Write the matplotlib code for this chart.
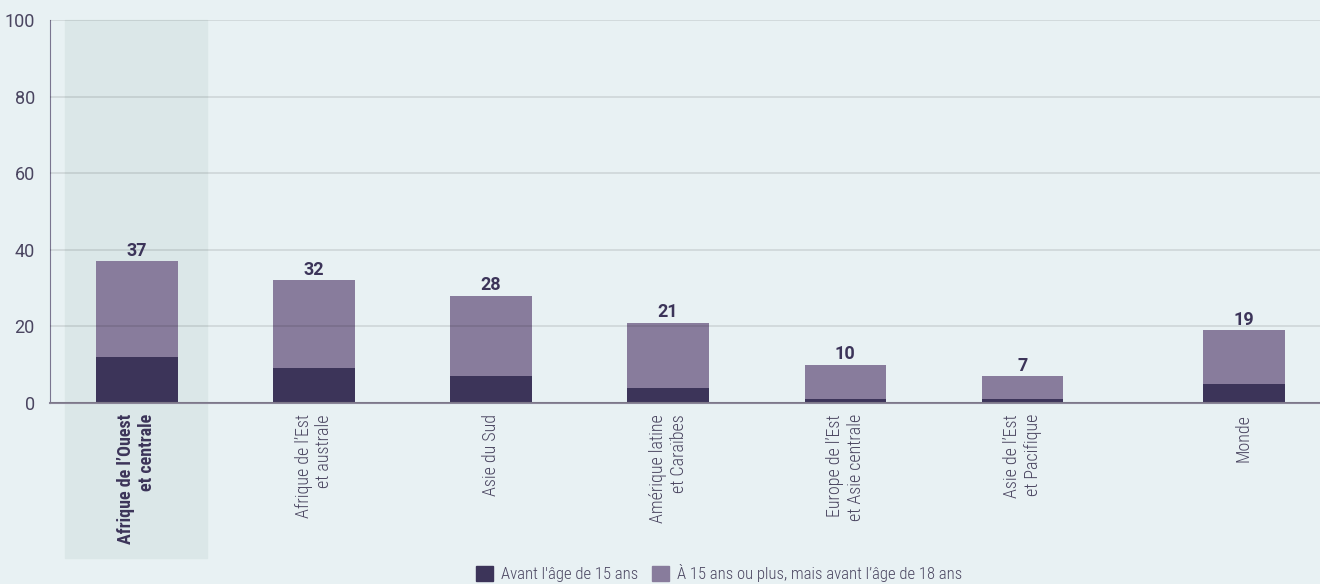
import numpy as np
import matplotlib
matplotlib.use('Agg')
import matplotlib.pyplot as plt
from matplotlib.patches import Rectangle, Patch
import matplotlib.transforms as mtransforms

# data
regions = ["Afrique de l\u2019Ouest\net centrale", "Afrique de l\u2019Est\net australe", "Asie du Sud",
           "Am\u00e9rique latine\net Cara\u00efbes", "Europe de l\u2019Est\net Asie centrale",
           "Asie de l\u2019Est\net Pacifique", "Monde"]
before_15 = [12, 9, 7, 4, 1, 1, 5]
total_18 = [37, 32, 28, 21, 10, 7, 19]
positions = [0, 1, 2, 3, 4, 5, 6.25]
legend_labels = ["Avant l'\u00e2ge de 15 ans", "\u00c0 15 ans ou plus, mais avant l\u2019\u00e2ge de 18 ans"]

bg = '#e8f1f3'
dark = '#3c3459'
light = '#887c9c'
band = '#dbe7e8'
txt = '#4a4560'

plt.rcParams['font.family'] = ['Roboto Condensed', 'Roboto', 'DejaVu Sans']

fig = plt.figure(figsize=(13.2, 5.84), dpi=100, facecolor=bg)
ax = fig.add_axes([0.0379, 0.31, 0.9621, 0.6558])
ax.set_facecolor(bg)

x = np.array(positions)
between = np.array(total_18) - np.array(before_15)
width = 0.46
ax.bar(x, before_15, width, color=dark, zorder=2)
ax.bar(x, between, width, bottom=before_15, color=light, zorder=2)

for xi, t in zip(x, total_18):
    ax.text(xi, t + 0.4, str(t), ha='center', va='bottom', fontsize=13,
            fontweight='bold', color=dark, family=['Roboto', 'DejaVu Sans'], zorder=4)

# highlighted first region band, running down past the axis
trans = mtransforms.blended_transform_factory(ax.transData, ax.transAxes)
ax.add_patch(Rectangle((-0.405, -0.405), 0.8, 1.405, transform=trans, color=band,
                       zorder=0, clip_on=False))

ax.set_ylim(0, 100)
ax.set_xlim(-0.49, 6.68)
ax.set_yticks([0, 20, 40, 60, 80, 100])
# gridlines sit faintly on top of the bars
ax.yaxis.grid(True, color='black', alpha=0.1, linewidth=1.3)
ax.set_axisbelow(False)
for s in ['top', 'right']:
    ax.spines[s].set_visible(False)
ax.spines['left'].set_color('#7a7590')
ax.spines['bottom'].set_color('#8a8598')
ax.spines['bottom'].set_linewidth(1.5)
ax.tick_params(axis='y', length=0, colors=txt, pad=11)
for lab in ax.get_yticklabels():
    lab.set_fontfamily(['Roboto', 'DejaVu Sans'])
    lab.set_fontsize(13)
ax.tick_params(axis='x', length=0, pad=8)
ax.set_xticks(x)
ax.set_xticklabels(regions, rotation=90, fontsize=13, color=txt, va='top', fontweight='light',
                   ha='center', multialignment='right', linespacing=1.2)
ax.get_xticklabels()[0].set_fontweight('bold')
ax.get_xticklabels()[0].set_color(dark)

handles = [Patch(color=dark), Patch(color=light)]
leg = fig.legend(handles, legend_labels, loc='lower center', bbox_to_anchor=(0.545, -0.022), ncol=2,
                 frameon=False, fontsize=12, handlelength=1.0, handleheight=1.0,
                 handletextpad=0.5, columnspacing=0.8, labelcolor=txt)
for t in leg.get_texts():
    t.set_fontweight('light')

plt.savefig('out.png', dpi=100, facecolor=bg)
